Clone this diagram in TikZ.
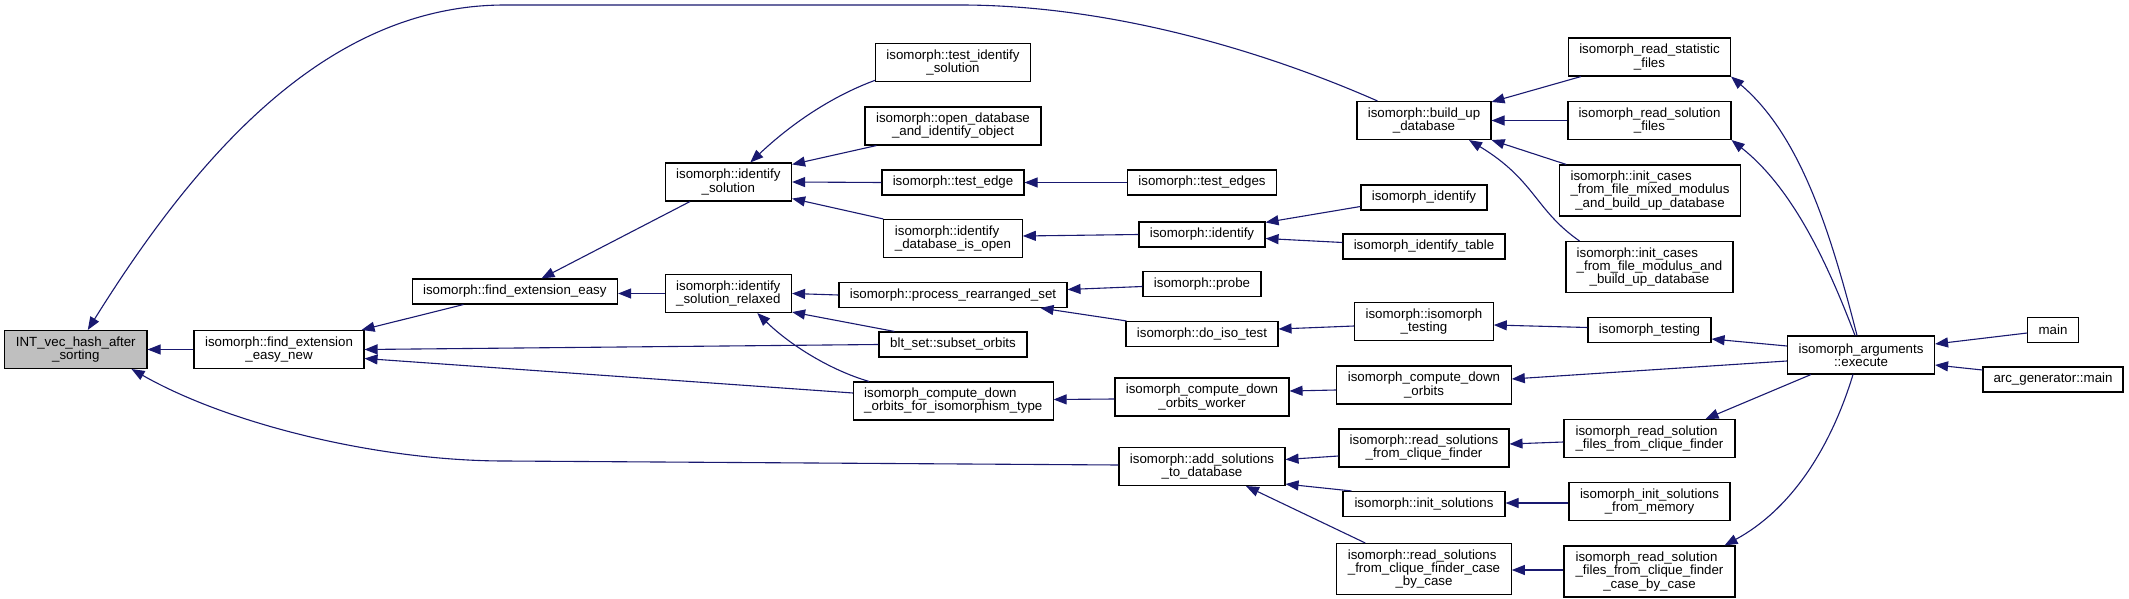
\documentclass[tikz,border=0pt]{standalone}
\usepackage{fontspec}
\setmainfont{Liberation Sans}
\usetikzlibrary{arrows.meta,calc}
\definecolor{edgec}{HTML}{191970}
\definecolor{rootfill}{HTML}{BFBFBF}
\newcommand{\fl}[2]{\rlap{#1}\phantom{#2}}
\begin{document}
\begin{tikzpicture}[x=1pt,y=-1pt,
  box/.style={draw=black, line width=1.1pt, fill=white, inner sep=0pt, align=center,
    font=\fontsize{13.3}{13.1}\selectfont},
  h1/.style={minimum height=25pt},
  h2/.style={minimum height=38pt},
  h3/.style={minimum height=51pt},
  e/.style={draw=edgec, line width=1.1pt, -{Triangle[length=13pt,width=10pt,fill=edgec]}}]
\useasboundingbox[fill=white] (0,0) rectangle (2129,599);

% column 1-2
\node[box,h2,fill=rootfill,minimum width=142.4pt] (A) at (75.8,349.5) {INT\_vec\_hash\_after\\\_sorting};
\node[box,h2,minimum width=170pt] (B) at (279,349.5) {isomorph::find\_extension\\\_easy\_new};
\node[box,h1,minimum width=205.5pt] (C) at (514.8,291.5) {isomorph::find\_extension\_easy};
% column 3
\node[box,h2,minimum width=126.5pt] (D) at (728.3,182) {isomorph::identify\\\_solution};
\node[box,h2,minimum width=126.5pt] (E) at (728.3,293.5) {\fl{isomorph::identify}{\_solution\_relaxed}\\\_solution\_relaxed};
% column 4
\node[box,h2,minimum width=155pt] (F) at (953,62.8) {isomorph::test\_identify\\\_solution};
\node[box,h2,minimum width=176pt] (G) at (953,126) {isomorph::open\_database\\\_and\_identify\_object};
\node[box,h1,minimum width=142pt] (H) at (953,182.5) {isomorph::test\_edge};
\node[box,h2,minimum width=138.5pt] (I) at (953,238.5) {\fl{isomorph::identify}{\_database\_is\_open}\\\_database\_is\_open};
\node[box,h1,minimum width=228pt] (J) at (953,295) {isomorph::process\_rearranged\_set};
\node[box,h1,minimum width=148pt] (K) at (953,344.5) {blt\_set::subset\_orbits};
\node[box,h2,minimum width=199.5pt] (L) at (953.3,401) {\fl{isomorph\_compute\_down}{\_orbits\_for\_isomorphism\_type}\\\_orbits\_for\_isomorphism\_type};
% column 5
\node[box,h1,minimum width=149pt] (M) at (1202,182.5) {isomorph::test\_edges};
\node[box,h1,minimum width=126pt] (N) at (1202,234.5) {isomorph::identify};
\node[box,h1,minimum width=118pt] (O) at (1202,284) {isomorph::probe};
\node[box,h1,minimum width=152pt] (P) at (1202,334) {isomorph::do\_iso\_test};
\node[box,h2,minimum width=174pt] (Q) at (1202,397) {isomorph\_compute\_down\\\_orbits\_worker};
\node[box,h2,minimum width=166pt] (R) at (1202,466.5) {isomorph::add\_solutions\\\_to\_database};
% column 6
\node[box,h2,minimum width=134pt] (S) at (1424,120.5) {isomorph::build\_up\\\_database};
\node[box,h1,minimum width=126pt] (T) at (1424,197.5) {isomorph\_identify};
\node[box,h1,minimum width=162pt] (U) at (1424,246.5) {isomorph\_identify\_table};
\node[box,h2,minimum width=138.5pt] (V) at (1424,321.5) {isomorph::isomorph\\\_testing};
\node[box,h2,minimum width=174.5pt] (W) at (1424,385) {isomorph\_compute\_down\\\_orbits};
\node[box,h2,minimum width=170pt] (X) at (1424,448) {isomorph::read\_solutions\\\_from\_clique\_finder};
\node[box,h1,minimum width=162pt] (Y) at (1424,504) {isomorph::init\_solutions};
\node[box,h3,minimum width=174.5pt] (Z) at (1424,569) {\fl{isomorph::read\_solutions}{\_from\_clique\_finder\_case}\\\_from\_clique\_finder\_case\\\_by\_case};
% column 7
\node[box,h2,minimum width=162pt] (a) at (1649.5,57) {isomorph\_read\_statistic\\\_files};
\node[box,h2,minimum width=163pt] (b) at (1649.5,120.5) {isomorph\_read\_solution\\\_files};
\node[box,h3,minimum width=180.4pt] (c) at (1650,190.5) {\fl{isomorph::init\_cases}{\_from\_file\_mixed\_modulus}\\\_from\_file\_mixed\_modulus\\\_and\_build\_up\_database};
\node[box,h3,minimum width=167pt] (d) at (1649.5,267) {\fl{isomorph::init\_cases}{\_from\_file\_modulus\_and}\\\_from\_file\_modulus\_and\\\_build\_up\_database};
\node[box,h1,minimum width=123pt] (ee) at (1649.5,330) {isomorph\_testing};
\node[box,h2,minimum width=171pt] (f) at (1649.5,438.5) {\fl{isomorph\_read\_solution}{\_files\_from\_clique\_finder}\\\_files\_from\_clique\_finder};
\node[box,h2,minimum width=161pt] (g) at (1649.5,501.5) {isomorph\_init\_solutions\\\_from\_memory};
\node[box,h3,minimum width=171pt] (hh) at (1649.5,571.5) {\fl{isomorph\_read\_solution}{\_files\_from\_clique\_finder}\\\_files\_from\_clique\_finder\\\_case\_by\_case};
% column 8-9
\node[box,h2,minimum width=147pt] (i) at (1861,355) {isomorph\_arguments\\::execute};
\node[box,h1,minimum width=50.5pt] (j) at (2053,330) {main};
\node[box,h1,minimum width=140pt] (k) at (2053,379.5) {arc\_generator::main};

% edges (arrow head at callee)
\draw[e] ($(S.north west)+(21,0)$) .. controls (1250,45) and (1100,5) .. (960,5) -- (505,5) .. controls (330,5) and (200,150) .. ($(A.north)+(12,0)$);
\draw[e] (B.west) -- (A.east);
\draw[e] ($(R.west)+(0,-1.5)$) -- (505,461) .. controls (380,461) and (230,425) .. ($(A.south east)+(-16,0)$);
\draw[e] ($(C.south west)+(52,0)$) -- ($(B.north east)+(-3,0)$);
\draw[e] ($(D.south west)+(25.5,0)$) -- ($(C.north west)+(130,0)$);
\draw[e] (E.west) -- ($(C.east)+(0,2)$);
\draw[e] (K.west) -- ($(B.east)+(0,0)$);
\draw[e] ($(L.west)+(0,-8)$) -- ($(B.east)+(0,9)$);
\draw[e] ($(F.south west)+(0,-2)$) .. controls (830,97) and (790,125) .. ($(D.north)+(22,0)$);
\draw[e] ($(G.south west)+(12,0)$) -- ($(D.north east)+(0,2)$);
\draw[e] (H.west) -- (D.east);
\draw[e] (I.north west) -- ($(D.south east)+(0,-3)$);
\draw[e] (M.west) -- (H.east);
\draw[e] (N.west) -- ($(I.east)+(0,-2.5)$);
\draw[e] ($(T.west)+(0,9)$) -- ($(N.north east)+(0,1)$);
\draw[e] ($(U.west)+(0,-4)$) -- ($(N.east)+(0,4)$);
\draw[e] (J.west) -- (E.east);
\draw[e] ($(K.north west)+(16,0)$) -- ($(E.south east)+(0,-1)$);
\draw[e] ($(L.north west)+(16,0)$) .. controls (830,370) and (790,345) .. ($(E.south)+(29,0)$);
\draw[e] ($(O.west)+(0,2.5)$) -- ($(J.east)+(0,-5.5)$);
\draw[e] ($(P.north west)+(1,0)$) -- ($(J.south east)+(-27,0)$);
\draw[e] ($(V.west)+(0,4.5)$) -- ($(P.east)+(0,-5)$);
\draw[e] ($(ee.west)+(0,-2.5)$) -- ($(V.east)+(0,3.5)$);
\draw[e] ($(i.west)+(0,-9)$) -- ($(ee.east)+(0,9)$);
\draw[e] ($(j.west)+(0,3)$) -- ($(i.east)+(0,-11)$);
\draw[e] ($(k.west)+(0,-9.5)$) -- ($(i.east)+(0,10)$);
\draw[e] ($(Q.west)+(0,2)$) -- ($(L.east)+(0,-1.5)$);
\draw[e] ($(W.west)+(0,5)$) -- ($(Q.east)+(0,-6)$);
\draw[e] ($(i.west)+(0,6)$) -- ($(W.east)+(0,-6)$);
\draw[e] ($(a.south west)+(13,0)$) -- ($(S.north east)+(0,1)$);
\draw[e] (b.west) -- (S.east);
\draw[e] ($(c.north west)+(7,0)$) -- (S.south east);
\draw[e] ($(d.north west)+(14,0)$) .. controls (1535,210) and (1535,180) .. ($(S.south)+(45,0)$);
\draw[e] ($(i.north)+(-4,0)$) .. controls (1830,230) and (1800,135) .. (a.south east);
\draw[e] ($(i.north)+(-6,0)$) .. controls (1830,270) and (1795,190) .. (b.south east);
\draw[e] ($(i.south west)+(24,0)$) -- ($(f.north east)+(-30,0)$);
\draw[e] ($(i.south)+(-8,0)$) .. controls (1830,450) and (1790,510) .. ($(hh.north east)+(-11,0)$);
\draw[e] ($(X.west)+(0,8)$) -- ($(R.east)+(0,-7)$);
\draw[e] ($(Y.north west)+(9,0)$) -- ($(R.south east)+(0,-2)$);
\draw[e] ($(Z.north west)+(29,0)$) -- ($(R.south)+(44,0)$);
\draw[e] ($(f.west)+(0,3.5)$) -- ($(X.east)+(0,-4)$);
\draw[e] ($(g.west)+(0,1.5)$) -- ($(Y.east)+(0,-1)$);
\draw[e] ($(hh.west)+(0,-1.5)$) -- ($(Z.east)+(0,1)$);
\end{tikzpicture}
\end{document}
